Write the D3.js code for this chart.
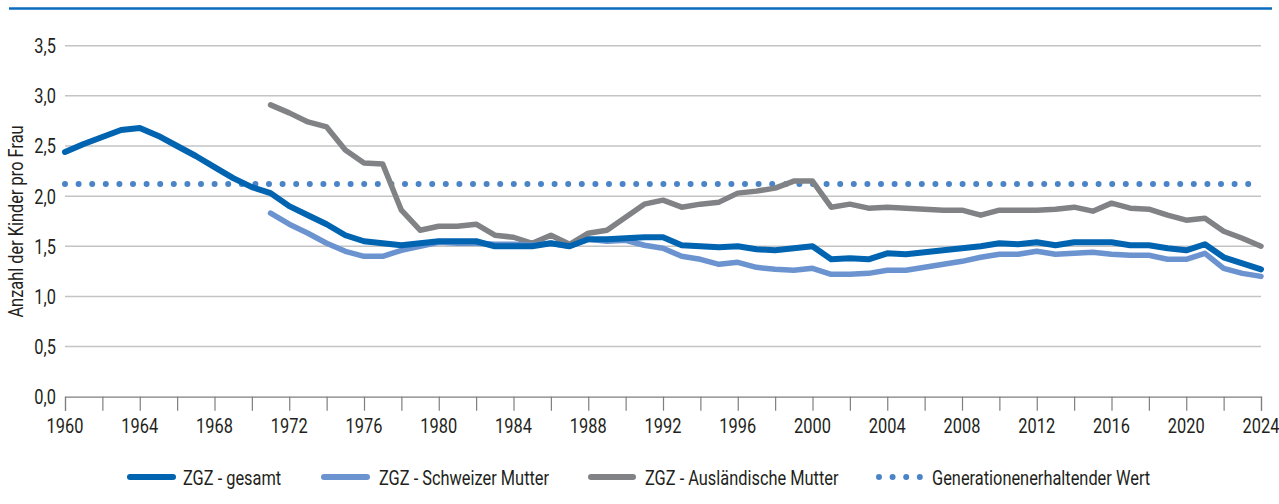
<!DOCTYPE html>
<html><head><meta charset="utf-8">
<script src="https://cdn.jsdelivr.net/npm/d3@7"></script>
<style>
html,body{margin:0;padding:0;background:#fff;}
svg{display:block;}
text{font-family:Roboto,"Noto Sans",sans-serif;fill:#231f20;}
</style></head>
<body>
<svg id="chart" width="1279" height="504"></svg>
<script>
const years = d3.range(1960, 2025);
const gesamt = [2.44,2.52,2.59,2.66,2.68,2.60,2.50,2.40,2.29,2.18,
  2.09,2.03,1.90,1.81,1.72,1.61,1.55,1.53,1.51,1.53,
  1.55,1.55,1.55,1.50,1.50,1.50,1.53,1.50,1.57,1.57,
  1.58,1.59,1.59,1.51,1.50,1.49,1.50,1.47,1.46,1.48,
  1.50,1.37,1.38,1.37,1.43,1.42,1.44,1.46,1.48,1.50,
  1.53,1.52,1.54,1.51,1.54,1.54,1.54,1.51,1.51,1.48,
  1.46,1.52,1.39,1.33,1.27];
const subYears = d3.range(1971, 2025);
const schweizer = [1.83,1.72,1.63,1.53,1.45,1.40,1.40,1.46,1.50,
  1.54,1.53,1.53,1.52,1.52,1.51,1.53,1.50,1.57,1.55,
  1.56,1.51,1.48,1.40,1.37,1.32,1.34,1.29,1.27,1.26,
  1.28,1.22,1.22,1.23,1.26,1.26,1.29,1.32,1.35,1.39,
  1.42,1.42,1.45,1.42,1.43,1.44,1.42,1.41,1.41,1.37,
  1.37,1.43,1.28,1.23,1.20];
const auslaendisch = [2.91,2.83,2.74,2.69,2.46,2.33,2.32,1.86,1.66,
  1.70,1.70,1.72,1.61,1.59,1.53,1.61,1.52,1.63,1.66,
  1.79,1.92,1.96,1.89,1.92,1.94,2.03,2.05,2.08,2.15,
  2.15,1.89,1.92,1.88,1.89,1.88,1.87,1.86,1.86,1.81,
  1.86,1.86,1.86,1.87,1.89,1.85,1.93,1.88,1.87,1.81,
  1.76,1.78,1.65,1.58,1.50];
const generationenWert = 2.12;
const yTicks = [0,0.5,1,1.5,2,2.5,3,3.5];
const xTickLabels = d3.range(1960, 2025, 4);
const xTickMarks = d3.range(1960, 2025, 2);
const seriesNames = ["ZGZ - gesamt","ZGZ - Schweizer Mutter","ZGZ - Ausländische Mutter","Generationenerhaltender Wert"];

const colors = {gesamt:"#0064b1", schweizer:"#6a93cf", ausl:"#808285", dots:"#4a84c6"};
const SX = 0.78; // condensed look

const svg = d3.select("#chart");
const x = d3.scaleLinear().domain([1960,2024]).range([65,1261]);
const y = d3.scaleLinear().domain([0,3.5]).range([396.7,45.7]);

function ctext(g, tx, ty, str, size, anchor, rot){
  return g.append("text")
    .attr("transform",`translate(${tx},${ty})${rot?` rotate(${rot})`:""} scale(${SX},1)`)
    .attr("text-anchor",anchor||"start").attr("font-size",size).text(str);
}

// top rule
svg.append("line").attr("x1",9).attr("x2",1272).attr("y1",8.5).attr("y2",8.5)
  .attr("stroke","#0a6bbf").attr("stroke-width",2.5);

// gridlines
svg.append("g").selectAll("line").data(yTicks.filter(d=>d>0)).join("line")
  .attr("x1",x(1960)).attr("x2",x(2024))
  .attr("y1",d=>y(d)).attr("y2",d=>y(d))
  .attr("stroke","#c4c4c4").attr("stroke-width",1.5);

// y labels
const gyl = svg.append("g");
yTicks.forEach(d=>{
  ctext(gyl, 56, y(d)+7.5, d3.format(".1f")(d).replace(".",","), 21, "end");
});

// x axis
const xAxis = d3.axisBottom(x).tickValues(xTickMarks).tickSize(14).tickFormat("");
const gx = svg.append("g").attr("transform",`translate(0,${y(0)})`).call(xAxis);
gx.select(".domain").attr("stroke","#7f7f7f").attr("stroke-width",1.2);
gx.selectAll(".tick line").attr("stroke","#7f7f7f").attr("stroke-width",1.2);
const gxl = svg.append("g");
xTickLabels.forEach(d=>{ ctext(gxl, x(d), 433, d, 21, "middle"); });

// y axis title
ctext(svg, 23, 221.5, "Anzahl der Kinder pro Frau", 21, "middle", -90);

// dotted reference line
svg.append("line").attr("x1",x(1960)).attr("x2",x(2024))
  .attr("y1",y(generationenWert)).attr("y2",y(generationenWert))
  .attr("stroke",colors.dots).attr("stroke-width",6).attr("stroke-linecap","round")
  .attr("stroke-dasharray","0 13.6");

const line = d3.line().x(d=>x(d[0])).y(d=>y(d[1]));
function draw(yrs, vals, col, w){
  svg.append("path").datum(yrs.map((yr,i)=>[yr,vals[i]]))
    .attr("d",line).attr("fill","none").attr("stroke",col).attr("stroke-width",w)
    .attr("stroke-linejoin","round").attr("stroke-linecap","round");
}
draw(subYears, auslaendisch, colors.ausl, 5.5);
draw(subYears, schweizer, colors.schweizer, 5.5);
draw(years, gesamt, colors.gesamt, 6);

// legend
const legend = [
  {name:seriesNames[0], col:colors.gesamt, x1:130, x2:173, tx:183, dots:false},
  {name:seriesNames[1], col:colors.schweizer, x1:324, x2:367, tx:379, dots:false},
  {name:seriesNames[2], col:colors.ausl, x1:591, x2:633, tx:645, dots:false},
  {name:seriesNames[3], col:colors.dots, x1:879, x2:920, tx:932, dots:true}
];
const ly = 477;
legend.forEach(l=>{
  const ln = svg.append("line").attr("x1",l.x1).attr("x2",l.x2).attr("y1",ly).attr("y2",ly)
    .attr("stroke",l.col).attr("stroke-width",6).attr("stroke-linecap","round");
  if(l.dots) ln.attr("stroke-dasharray","0 13.6");
  ctext(svg, l.tx, ly+7.5, l.name, 21, "start");
});
</script>
</body></html>
